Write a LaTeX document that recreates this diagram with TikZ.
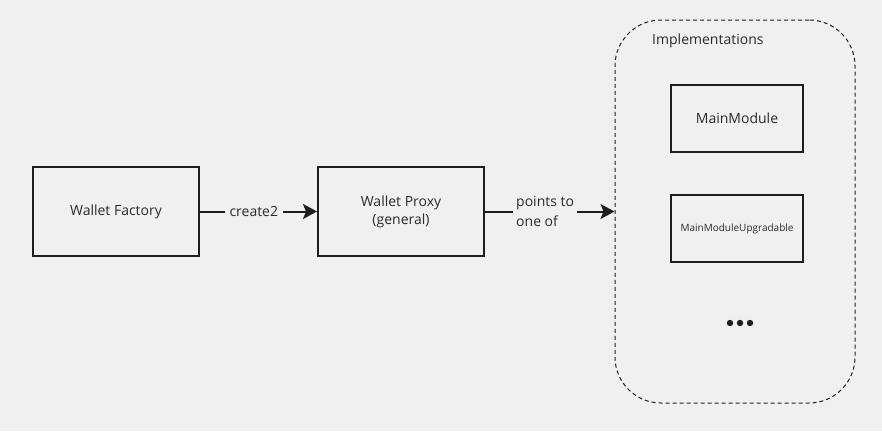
\documentclass[tikz,border=0pt]{standalone}
\usepackage{fontspec}
\setmainfont{Open Sans}
\usetikzlibrary{arrows.meta}
\definecolor{bg}{HTML}{F0F0F0}
\definecolor{ink}{HTML}{1E1E1E}
\definecolor{txt}{HTML}{2B2B2B}
\begin{document}
\begin{tikzpicture}[x=1pt,y=-1pt,
  box/.style={draw=ink,line width=2pt,minimum width=166pt,minimum height=89pt,inner sep=0pt,font=\fontsize{14}{18}\selectfont,text=txt,align=center},
  modbox/.style={draw=ink,line width=2pt,minimum width=132pt,minimum height=67pt,inner sep=0pt,text=txt},
  conn/.style={draw=ink,line width=2pt,-{Stealth[length=14pt,width=15pt,inset=3pt]}},
  lbl/.style={fill=bg,text=txt,font=\fontsize{14}{20}\selectfont,inner sep=3pt}]
\fill[bg] (0,0) rectangle (882,431);
\useasboundingbox (0,0) rectangle (882,431);
\node[box] (factory) at (116,211.5) {Wallet Factory};
\node[box] (proxy) at (401,211.5) {Wallet Proxy\\(general)};
\node[draw=ink,line width=1pt,dash pattern=on 4pt off 3pt,rounded corners=46pt,minimum width=240pt,minimum height=383pt,inner sep=0pt] (impl) at (735,211.5) {};
\node[text=txt,font=\fontsize{14}{18}\selectfont,anchor=west,inner sep=0pt] (impltitle) at (652,41) {Implementations};
\node[modbox,font=\fontsize{14}{18}\selectfont] (main) at (737,118.5) {MainModule};
\node[modbox,font=\fontsize{10}{12}\selectfont] (upg) at (737,228.5) {MainModuleUpgradable};
\fill[ink] (730,323) circle (3.2pt) (740,323) circle (3.2pt) (750,323) circle (3.2pt);
\draw[conn] (factory.east) -- node[lbl,pos=0.46,inner xsep=4.5pt] (l1) {create2} (proxy.west);
\draw[conn] (proxy.east) -- (impl.west |- proxy.east);
\node[lbl,align=left,anchor=west,inner sep=3pt] (l2) at (513,211) {points to\\one of};
\end{tikzpicture}
\end{document}
